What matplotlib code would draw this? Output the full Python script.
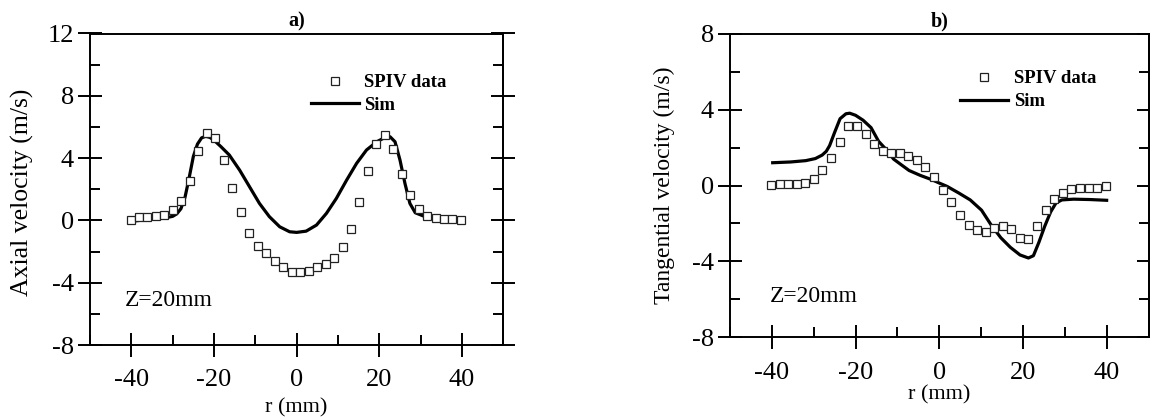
import matplotlib
matplotlib.use("Agg")
import matplotlib.pyplot as plt
from matplotlib.lines import Line2D
from matplotlib.ticker import MultipleLocator

plt.rcParams['font.family'] = ['Liberation Serif', 'DejaVu Serif']
plt.rcParams['axes.unicode_minus'] = False

# ---------------- data ----------------
r_spiv = [-40.2, -38.1, -36.1, -34.0, -32.0, -29.9, -27.9, -25.8, -23.8, -21.7,
          -19.7, -17.6, -15.6, -13.5, -11.5, -9.4, -7.4, -5.3, -3.3, -1.2,
          0.8, 2.9, 4.9, 7.0, 9.0, 11.1, 13.1, 15.2, 17.2, 19.3,
          21.3, 23.4, 25.4, 27.5, 29.5, 31.6, 33.6, 35.7, 37.7, 39.8]

axial_spiv = [0.05, 0.25, 0.25, 0.27, 0.36, 0.64, 1.24, 2.55, 4.43, 5.6,
              5.28, 3.85, 2.09, 0.53, -0.82, -1.64, -2.12, -2.63, -3.02, -3.29,
              -3.33, -3.24, -3.0, -2.78, -2.4, -1.7, -0.53, 1.17, 3.16, 4.92,
              5.46, 4.57, 3.0, 1.62, 0.72, 0.31, 0.13, 0.11, 0.09, 0.0]

r_sim_a = [-39.9, -36.0, -32.0, -30.0, -29.0, -28.0, -27.0, -26.0, -25.0, -24.0,
           -23.0, -22.0, -21.0, -20.0, -18.3, -16.3, -13.8, -11.4, -9.0, -6.6,
           -4.1, -1.7, 0.0, 2.3, 4.8, 7.2, 9.6, 12.1, 14.5, 16.9,
           19.4, 21.4, 22.6, 23.8, 25.0, 26.2, 27.4, 28.7, 30.7, 34.0,
           37.2, 40.0]
axial_sim = [-0.05, 0.05, 0.15, 0.26, 0.42, 0.75, 1.5, 2.75, 4.1, 4.9,
             5.3, 5.4, 5.33, 5.15, 4.73, 4.2, 3.23, 2.16, 1.09, 0.24,
             -0.41, -0.73, -0.77, -0.69, -0.3, 0.45, 1.41, 2.59, 3.66, 4.52,
             5.05, 5.33, 5.37, 5.05, 3.88, 2.38, 1.09, 0.49, 0.28, 0.2,
             0.13, 0.1]

tang_spiv = [0.01, 0.08, 0.08, 0.08, 0.12, 0.32, 0.8, 1.44, 2.31, 3.13,
             3.14, 2.71, 2.2, 1.83, 1.7, 1.7, 1.57, 1.34, 0.98, 0.45,
             -0.25, -0.88, -1.57, -2.07, -2.37, -2.43, -2.25, -2.14, -2.31, -2.79,
             -2.84, -2.16, -1.29, -0.73, -0.38, -0.2, -0.13, -0.13, -0.13, 0.0]

r_sim_b = [-39.8, -35.5, -31.9, -29.6, -28.0, -27.0, -26.2, -25.0, -23.7, -22.3,
           -21.4, -20.0, -18.2, -16.3, -14.5, -12.7, -10.9, -9.0, -7.2, -4.5,
           -1.7, 0.1, 1.9, 4.7, 7.4, 10.1, 12.4, 14.7, 17.0, 19.3,
           21.3, 22.5, 23.8, 25.2, 26.6, 27.9, 29.3, 32.1, 36.0, 40.0]
tang_sim = [1.2, 1.24, 1.31, 1.42, 1.6, 1.8, 2.1, 2.8, 3.52, 3.78,
            3.81, 3.7, 3.44, 3.05, 2.33, 1.9, 1.39, 1.08, 0.79, 0.53,
            0.3, 0.12, -0.05, -0.4, -0.76, -1.3, -2.08, -2.75, -3.26, -3.66,
            -3.82, -3.7, -3.0, -2.15, -1.4, -0.92, -0.76, -0.72, -0.74, -0.78]

x_ticks = [-40, -20, 0, 20, 40]

# ---------------- figure ----------------
fig = plt.figure(figsize=(11.6, 4.17), dpi=100)
ax_a = fig.add_axes([90 / 1160, 1 - 345 / 417, 413.3 / 1160, 311.5 / 417])
ax_b = fig.add_axes([730 / 1160, 1 - 337.3 / 417, 418.5 / 1160, 303.6 / 417])

marker_kw = dict(ls='none', marker='s', ms=5.6, mfc='white', mec='#222222', mew=0.9)
line_kw = dict(color='black', lw=2.3)

def style(ax, ylim, ymaj, ymin, right_inout, tick_fs):
    ax.set_xlim(-50, 50)
    ax.set_ylim(*ylim)
    ax.xaxis.set_major_locator(MultipleLocator(20))
    ax.xaxis.set_minor_locator(MultipleLocator(10))
    ax.yaxis.set_major_locator(MultipleLocator(ymaj))
    ax.yaxis.set_minor_locator(MultipleLocator(ymin))
    ax.set_xticks(x_ticks)
    for s in ax.spines.values():
        s.set_linewidth(1.4)
    ax.tick_params(which='major', direction='inout', length=17, width=1.4,
                   labelsize=tick_fs, top=False, right=False)
    ax.tick_params(which='minor', direction='in', length=7.5, width=1.4,
                   top=False, right=False)
    ax.tick_params(axis='x', which='major', pad=9)
    ax.tick_params(axis='y', which='major', pad=3)
    # right side ticks
    ax2 = ax.secondary_yaxis('right')
    ax2.yaxis.set_major_locator(MultipleLocator(ymaj))
    ax2.yaxis.set_minor_locator(MultipleLocator(ymin))
    ax2.spines['right'].set_linewidth(1.4)
    if right_inout:
        ax2.tick_params(which='major', direction='inout', length=17, width=1.4,
                        labelright=False)
    else:
        ax2.tick_params(which='major', direction='in', length=8.5, width=1.4,
                        labelright=False)
    ax2.tick_params(which='minor', direction='in', length=7.5, width=1.4,
                    labelright=False)

# ---- panel a ----
ax_a.plot(r_spiv, axial_spiv, **marker_kw, zorder=3)
ax_a.plot(r_sim_a, axial_sim, **line_kw, zorder=2)
style(ax_a, (-8, 12), 4, 2, True, 19)
ax_a.set_title('a)', fontsize=14.5, fontweight='bold', pad=5)
ax_a.set_ylabel('Axial velocity (m/s)', fontsize=18.5, va='center')
ax_a.yaxis.set_label_coords((22 - 90) / 413.3, 0.49)
ax_a.set_xlabel('r (mm)', fontsize=16, va='center')
ax_a.xaxis.set_label_coords(0.5, (345 - 408) / 311.5)
ax_a.text((125 - 90) / 413.3, (345 - 300) / 311.5, 'Z=20mm', fontsize=17,
          ha='left', va='center', transform=ax_a.transAxes)

# ---- panel b ----
ax_b.plot(r_spiv, tang_spiv, **marker_kw, zorder=3)
ax_b.plot(r_sim_b, tang_sim, **line_kw, zorder=2)
style(ax_b, (-8, 8), 4, 2, False, 19)
ax_b.set_title('b)', fontsize=14.5, fontweight='bold', pad=5)
ax_b.set_ylabel('Tangential velocity (m/s)', fontsize=17, va='center')
ax_b.yaxis.set_label_coords((664 - 730) / 418.5, 0.5)
ax_b.set_xlabel('r (mm)', fontsize=16, va='center')
ax_b.xaxis.set_label_coords(0.5, (337.3 - 395) / 303.6)
ax_b.text((769.7 - 730) / 418.5, (337.3 - 296.7) / 303.6, 'Z=20mm', fontsize=17,
          ha='left', va='center', transform=ax_b.transAxes)

# ---- legends ----
handles = [Line2D([], [], **marker_kw), Line2D([], [], **line_kw)]
labels = ['SPIV data', 'Sim']
leg_kw = dict(loc='center left', frameon=False, borderpad=0, borderaxespad=0,
              handlelength=2.56, handletextpad=0.3, labelspacing=0.3,
              prop={'family': 'Liberation Serif', 'weight': 'bold', 'size': 13.5})
ax_a.legend(handles, labels, bbox_to_anchor=((310.7 - 90) / 413.3, (345 - 94) / 311.5), **leg_kw)
ax_b.legend(handles, labels, bbox_to_anchor=((960 - 730) / 418.5, (337.3 - 90.3) / 303.6), **leg_kw)

fig.savefig('out.png', dpi=100)
